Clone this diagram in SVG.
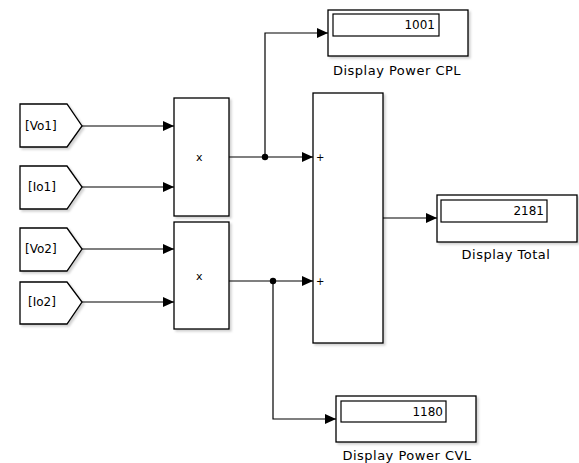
<svg xmlns="http://www.w3.org/2000/svg" width="579" height="463" viewBox="0 0 579 463">
<defs>
<marker id="ah" markerWidth="11" markerHeight="10" refX="11" refY="5" orient="auto" markerUnits="userSpaceOnUse">
<path d="M0,0 L11,5 L0,10 Z" fill="#000"/>
</marker>
<filter id="sh" x="-10%" y="-10%" width="130%" height="130%">
<feDropShadow dx="2" dy="2" stdDeviation="1" flood-color="#000" flood-opacity="0.18"/>
</filter>
</defs>
<style>
text{font-family:"DejaVu Sans","Liberation Sans",Arial,sans-serif;fill:#000}
.blk{fill:#fff;stroke:#000;stroke-width:1.3;filter:url(#sh)}
.inner{fill:#fff;stroke:#000;stroke-width:1.2}
.lbl{font-size:12px}
.val{font-size:12px;text-anchor:end}
.name{font-size:13px;letter-spacing:0.5px;text-anchor:middle}
.wire{fill:none;stroke:#000;stroke-width:1.2}
.arr{marker-end:url(#ah)}
</style>
<rect width="579" height="463" fill="#fff"/>

<g id="goto-vo1">
<path class="blk" d="M20,104 H67 L82,126 L67,147 H20 Z"/>
<text class="lbl" x="25" y="130">[Vo1]</text>
</g>
<g id="goto-io1">
<path class="blk" d="M20,166 H67 L82,187 L67,209 H20 Z"/>
<text class="lbl" x="28" y="191">[Io1]</text>
</g>
<g id="goto-vo2">
<path class="blk" d="M20,228 H67 L82,249 L67,271 H20 Z"/>
<text class="lbl" x="25" y="253">[Vo2]</text>
</g>
<g id="goto-io2">
<path class="blk" d="M20,282 H67 L82,302 L67,324 H20 Z"/>
<text class="lbl" x="28" y="306">[Io2]</text>
</g>

<g id="product1">
<rect class="blk" x="174" y="98" width="55" height="118"/>
<text x="196" y="161" font-size="11">x</text>
</g>
<g id="product2">
<rect class="blk" x="174" y="222" width="55" height="107"/>
<text x="196" y="280" font-size="11">x</text>
</g>

<g id="sum">
<rect class="blk" x="313" y="93" width="70" height="250"/>
<text x="316" y="161" font-size="10">+</text>
<text x="316" y="285" font-size="10">+</text>
</g>

<g id="display-cpl">
<rect class="blk" x="328" y="10" width="140" height="46"/>
<rect class="inner" x="333" y="14" width="106" height="22"/>
<text class="val" x="435" y="29">1001</text>
<text class="name" x="397" y="75">Display Power CPL</text>
</g>
<g id="display-total">
<rect class="blk" x="437" y="195" width="140" height="47"/>
<rect class="inner" x="441" y="200" width="106" height="22"/>
<text class="val" x="544" y="215">2181</text>
<text class="name" x="506" y="259">Display Total</text>
</g>
<g id="display-cvl">
<rect class="blk" x="336" y="396" width="140" height="46"/>
<rect class="inner" x="341" y="401" width="105" height="21"/>
<text class="val" x="443" y="416">1180</text>
<text class="name" x="407" y="460">Display Power CVL</text>
</g>

<g id="connectors">
<path class="wire arr" d="M82,126 H174"/>
<path class="wire arr" d="M82,187 H174"/>
<path class="wire arr" d="M82,249 H174"/>
<path class="wire arr" d="M82,302 H174"/>
<path class="wire arr" d="M229,157 H313"/>
<path class="wire arr" d="M265,157 V33 H328"/>
<path class="wire arr" d="M229,281 H313"/>
<path class="wire arr" d="M273,281 V419 H336"/>
<path class="wire arr" d="M383,218 H437"/>
<circle cx="265" cy="157" r="3.2" fill="#000"/>
<circle cx="273" cy="281" r="3.2" fill="#000"/>
</g>
</svg>
